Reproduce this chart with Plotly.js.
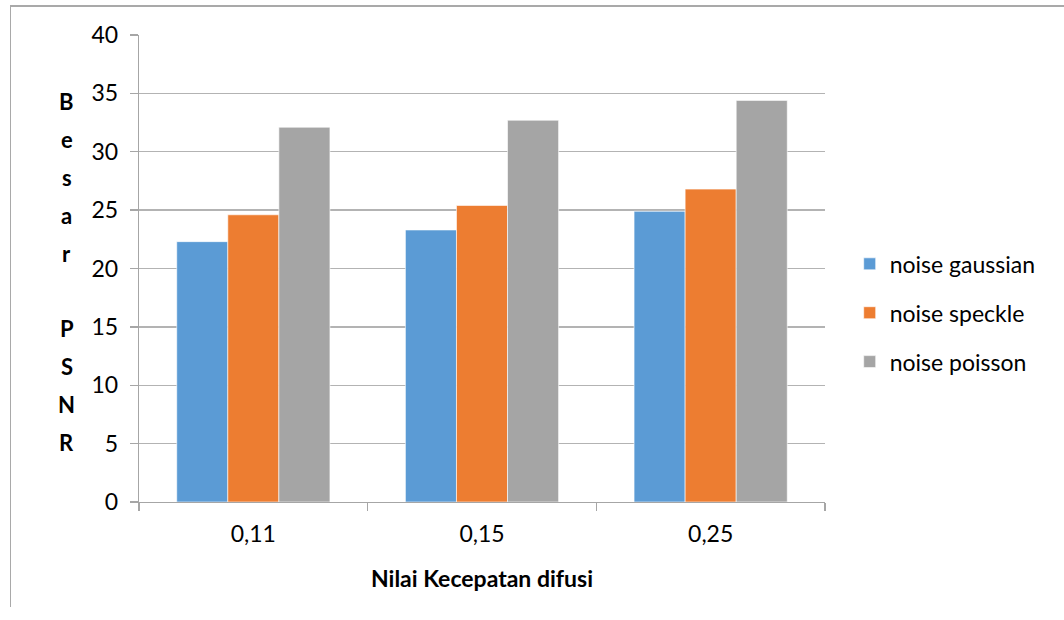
<!DOCTYPE html>
<html>
<head>
<meta charset="utf-8">
<script src="https://cdn.plot.ly/plotly-3.0.1.min.js"></script>
<style>
  html, body { margin: 0; padding: 0; background: #fff; }
  #frame { position: absolute; left: 10px; top: 5px; width: 1060px; height: 600px;
           border-top: 2px solid #a9a9a9; border-left: 1px solid #a9a9a9; pointer-events: none; }
  #chart { position: absolute; left: 0; top: 0; width: 1064px; height: 620px; }
</style>
</head>
<body>
<div id="chart"></div>
<div id="frame"></div>
<script>
const categories = ["0,11", "0,15", "0,25"];
const seriesNames = ["noise gaussian", "noise speckle", "noise poisson"];
const gaussian = [22.3, 23.3, 24.9];
const speckle = [24.6, 25.4, 26.8];
const poisson = [32.1, 32.7, 34.4];
const colors = ["#5B9BD5", "#ED7D31", "#A5A5A5"];
const yTitleLetters = ["B", "e", "s", "a", "r", "", "P", "S", "N", "R"];

const FONT = "Lato, 'Open Sans', sans-serif";
const values = [gaussian, speckle, poisson];
const traces = values.map((v, i) => ({
  type: "bar",
  name: seriesNames[i],
  x: categories,
  y: v,
  marker: { color: colors[i], line: { color: "#ffffff", width: 0.6 } },
  legendgroup: "g" + i,
  hoverinfo: "x+y+name"
}));

// vertical stacked letters of the y-axis title, one annotation per letter
const letterTop = 0.857, letterStep = 0.081;
const letterAnns = yTitleLetters.map((c, i) => ({
  xref: "paper", yref: "paper", x: -0.105, y: letterTop - i * letterStep,
  xanchor: "center", yanchor: "middle",
  text: c ? "<b>" + c + "</b>" : "", showarrow: false,
  font: { family: FONT, size: 22, color: "#000" }
})).filter(a => a.text);

const layout = {
  width: 1064, height: 620,
  margin: { l: 139, r: 239, t: 35, b: 118 },
  paper_bgcolor: "#ffffff", plot_bgcolor: "#ffffff",
  font: { family: FONT, size: 23, color: "#000" },
  barmode: "group",
  bargap: 0.33,
  bargroupgap: 0,
  showlegend: true,
  legend: {
    x: 1.036, xanchor: "left", y: 0.405, yanchor: "middle",
    font: { family: FONT, size: 23, color: "#000" },
    traceorder: "grouped", tracegroupgap: 16,
    itemwidth: 30
  },
  xaxis: {
    type: "category",
    showline: true, linecolor: "#a6a6a6", linewidth: 1.3,
    ticks: "outside", tickson: "boundaries", ticklen: 8, tickcolor: "#a6a6a6", tickwidth: 1.3,
    showgrid: false,
    ticklabelstandoff: 11,
    tickfont: { family: FONT, size: 23, color: "#000" },
    title: { text: "<b>Nilai Kecepatan difusi</b>", font: { family: FONT, size: 23, color: "#000" }, standoff: 25 }
  },
  yaxis: {
    range: [0, 40], dtick: 5, tick0: 0,
    showline: true, linecolor: "#a6a6a6", linewidth: 1.3,
    ticks: "outside", ticklen: 8, tickcolor: "#a6a6a6", tickwidth: 1.3,
    showgrid: true, gridcolor: "#b3b3b3", gridwidth: 1.3,
    zeroline: false,
    ticklabelstandoff: 7,
    tickfont: { family: FONT, size: 23, color: "#000" }
  },
  annotations: letterAnns
};

Plotly.newPlot("chart", traces, layout, { displayModeBar: false, staticPlot: true });
</script>
</body>
</html>
